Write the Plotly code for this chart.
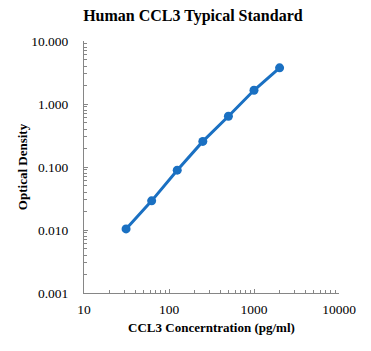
import plotly.graph_objects as go

conc = [31.25, 62.5, 125, 250, 500, 1000, 2000]
od = [0.0104, 0.029, 0.089, 0.255, 0.64, 1.65, 3.75]

y_tickvals = [0.001, 0.01, 0.1, 1, 10]
y_ticktext = ["0.001", "0.010", "0.100", "1.000", "10.000"]
x_tickvals = [10, 100, 1000, 10000]
x_ticktext = ["10", "100", "1000", "10000"]

x_minor = [m * d for d in (10, 100, 1000) for m in range(2, 10)]
y_minor = [m * d for d in (0.001, 0.01, 0.1, 1) for m in range(2, 10)]

blue = "#1a70c2"
serif = "Liberation Serif, Times New Roman, serif"
axis_gray = "#868686"

fig = go.Figure()
fig.add_trace(go.Scatter(
    x=conc, y=od, mode="lines+markers",
    line=dict(color=blue, width=3),
    marker=dict(color=blue, size=9),
    showlegend=False,
))

fig.update_layout(
    width=371, height=351,
    margin=dict(l=84, r=32, t=41, b=58),
    paper_bgcolor="white", plot_bgcolor="white",
    font=dict(family=serif, size=13.5, color="black"),
    title=dict(text="<b>Human CCL3 Typical Standard</b>", x=0.52, xanchor="center",
               y=0.957, yanchor="middle", font=dict(size=16, family=serif)),
)
fig.update_xaxes(
    type="log", range=[1, 4],
    tickvals=x_tickvals, ticktext=x_ticktext,
    showline=True, linecolor=axis_gray, linewidth=1,
    ticks="inside", ticklen=4, tickcolor=axis_gray,
    minor=dict(tickvals=x_minor, ticks="inside", ticklen=3, tickcolor=axis_gray, showgrid=False),
    ticklabelstandoff=4,
    showgrid=False, zeroline=False,
    title=dict(text="<b>CCL3 Concerntration (pg/ml)</b>", font=dict(size=13), standoff=6),
)
fig.update_yaxes(
    type="log", range=[-3, 1],
    tickvals=y_tickvals, ticktext=y_ticktext,
    showline=True, linecolor=axis_gray, linewidth=1,
    ticks="inside", ticklen=4, tickcolor=axis_gray,
    minor=dict(tickvals=y_minor, ticks="inside", ticklen=3, tickcolor=axis_gray, showgrid=False),
    ticklabelstandoff=12,
    showgrid=False, zeroline=False,
    title=dict(text="<b>Optical Density</b>", font=dict(size=13), standoff=0),
)

fig.write_html("out.html")
